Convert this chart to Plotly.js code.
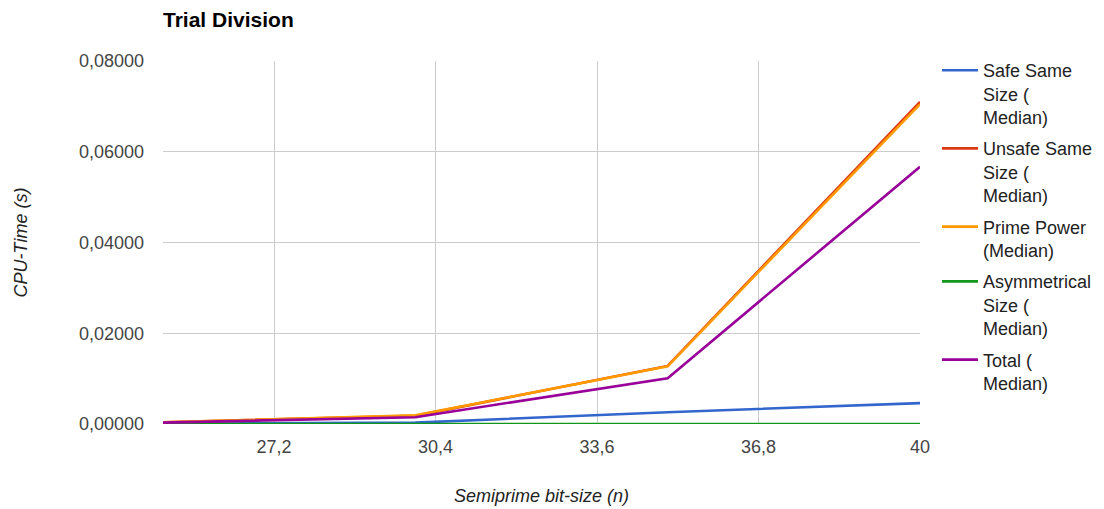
<!DOCTYPE html>
<html>
<head>
<meta charset="utf-8">
<script src="https://cdn.plot.ly/plotly-3.0.1.min.js"></script>
<style>
  html, body { margin: 0; padding: 0; background: #fff; }
  #chart { width: 1104px; height: 509px; }
</style>
</head>
<body>
<div id="chart"></div>
<script>
// Semiprime bit-size on the x axis, median CPU time (seconds) per series
const bitSizes = [25, 30, 35, 40];
const safeSameSize = [0.0001, 0.0003, 0.0026, 0.0046];
const unsafeSameSize = [0.0004, 0.0018, 0.0128, 0.0710];
const primePower = [0.0004, 0.0019, 0.0127, 0.0705];
const asymmetricalSize = [0.0000, 0.0000, 0.0001, 0.0000];
const total = [0.0003, 0.0015, 0.0101, 0.0567];

const seriesNames = [
  'Safe Same<br>Size (<br>Median)',
  'Unsafe Same<br>Size (<br>Median)',
  'Prime Power<br>(Median)',
  'Asymmetrical<br>Size (<br>Median)',
  'Total (<br>Median)'
];
const seriesValues = [safeSameSize, unsafeSameSize, primePower, asymmetricalSize, total];
const seriesColors = ['#3366cc', '#dc3912', '#ff9900', '#109618', '#990099'];

const xTickVals = [27.2, 30.4, 33.6, 36.8, 40];
const xTickText = ['27,2', '30,4', '33,6', '36,8', '40'];
const yTickVals = [0, 0.02, 0.04, 0.06, 0.08];
const yTickText = ['0,00000', '0,02000', '0,04000', '0,06000', '0,08000'];

const traces = seriesValues.map((vals, i) => ({
  type: 'scatter',
  mode: 'lines',
  x: bitSizes,
  y: vals,
  name: seriesNames[i],
  legendgroup: 'g' + i,
  line: { color: seriesColors[i], width: 2.6 },
  hoverinfo: 'x+y+name'
}));

const font = 'Arial, "Liberation Sans", sans-serif';

const layout = {
  width: 1104,
  height: 509,
  margin: { l: 163, r: 184, t: 61, b: 85, autoexpand: false },
  paper_bgcolor: '#ffffff',
  plot_bgcolor: '#ffffff',
  font: { family: font, size: 18, color: '#444' },
  separators: ',.',
  title: {
    text: '<b>Trial Division</b>',
    font: { family: font, size: 21, color: '#000' },
    x: 163 / 1104,
    xanchor: 'left',
    y: 1 - 20 / 509,
    yanchor: 'middle'
  },
  xaxis: {
    range: [25, 40],
    tickvals: xTickVals,
    ticktext: xTickText,
    showgrid: true,
    gridcolor: '#cccccc',
    gridwidth: 1,
    zeroline: false,
    showline: false,
    ticks: '',
    ticklabelstandoff: 10,
    tickfont: { family: font, size: 18, color: '#444' },
    title: {
      text: '<i>Semiprime bit-size (n)</i>',
      font: { family: font, size: 18, color: '#222' },
      standoff: 33
    },
    automargin: false,
    fixedrange: true
  },
  yaxis: {
    range: [0, 0.08],
    tickvals: yTickVals,
    ticktext: yTickText,
    showgrid: true,
    gridcolor: '#cccccc',
    gridwidth: 1,
    zeroline: false,
    showline: false,
    ticks: '',
    ticklabelstandoff: 18,
    tickfont: { family: font, size: 18, color: '#444' },
    title: {
      text: '<i>CPU-Time (s)</i>',
      font: { family: font, size: 18, color: '#222' },
      standoff: 46
    },
    automargin: false,
    fixedrange: true
  },
  showlegend: true,
  legend: {
    x: (937 - 163) / 757,
    xanchor: 'left',
    y: 1 + 9 / 363,
    yanchor: 'top',
    valign: 'top',
    maxheight: 420,
    font: { family: font, size: 18, color: '#222' },
    bgcolor: 'rgba(0,0,0,0)',
    borderwidth: 0,
    tracegroupgap: 5,
    traceorder: 'grouped',
    itemwidth: 36
  },
  hovermode: 'closest'
};

Plotly.newPlot('chart', traces, layout, { displayModeBar: false });
</script>
</body>
</html>
